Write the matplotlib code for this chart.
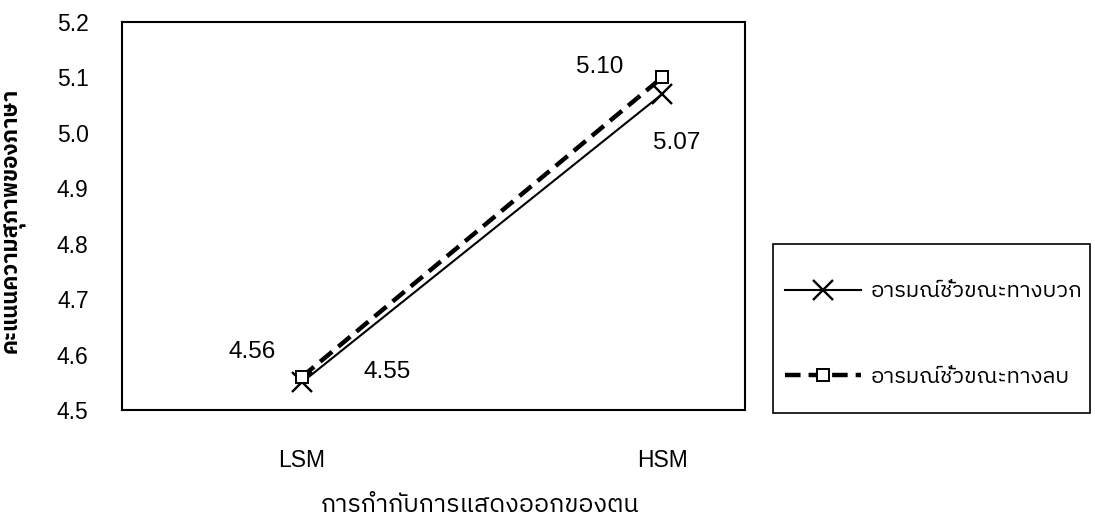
import matplotlib
matplotlib.use('Agg')
import matplotlib.pyplot as plt
from matplotlib import font_manager
from matplotlib.ft2font import FT2Font
from matplotlib.patches import Rectangle

# data
groups = ['LSM', 'HSM']
positive_mood = [4.55, 5.07]
negative_mood = [4.56, 5.10]
series_names = ['อารมณ์ชั่วขณะทางบวก', 'อารมณ์ชั่วขณะทางลบ']
y_ticks = [4.5, 4.6, 4.7, 4.8, 4.9, 5.0, 5.1, 5.2]
x_title = 'การกำกับการแสดงออกของตน'
y_title = 'คะแนนความสุภาพของภาษา'


def find_thai_font():
    # look for any installed font that has Thai glyphs
    found = []
    for f in font_manager.fontManager.ttflist:
        try:
            if 0x0E01 in FT2Font(f.fname).get_charmap():
                found.append(f.name)
        except Exception:
            pass
    for name in found:
        if 'Sans' in name:
            return name
    if found:
        return found[0]
    return 'DejaVu Sans'


thai_font = find_thai_font()
num_font = 'Liberation Sans'
W, H = 1095, 522

fig = plt.figure(figsize=(10.95, 5.22), dpi=100)
ax = fig.add_axes([122 / W, 1 - 410 / H, 623 / W, 388 / H])

x = list(range(len(groups)))
ax.plot(x, positive_mood, color='black', linewidth=1.5, marker='x',
        markersize=14, markeredgewidth=1.7, label=series_names[0])
ax.plot(x, negative_mood, color='black', linewidth=3.2, linestyle=(0, (3.5, 1.8)),
        marker='s', markersize=9, markerfacecolor='white', markeredgewidth=1.4,
        label=series_names[1])

ax.set_xlim(-0.5, 1.23)
ax.set_ylim(4.5, 5.2)
ax.set_yticks(y_ticks)
ax.set_yticklabels(['%.1f' % v for v in y_ticks], fontsize=16.5, family=num_font)
ax.set_xticks(x)
ax.set_xticklabels(groups, fontsize=16.5, family=num_font)
ax.tick_params(axis='both', length=0)
ax.tick_params(axis='x', pad=28)
ax.tick_params(axis='y', pad=24)
for s in ax.spines.values():
    s.set_linewidth(1.5)

# value labels
offsets_pos = [(85, 10), (15, -49)]
offsets_neg = [(-50, 25), (-62, 10)]
for i in x:
    ax.annotate('%.2f' % positive_mood[i], (x[i], positive_mood[i]),
                xytext=offsets_pos[i], textcoords='offset pixels',
                ha='center', va='center', fontsize=17.5, family=num_font)
    ax.annotate('%.2f' % negative_mood[i], (x[i], negative_mood[i]),
                xytext=offsets_neg[i], textcoords='offset pixels',
                ha='center', va='center', fontsize=17.5, family=num_font)

fig.text(480 / W, 1 - 505 / H, x_title, ha='center', va='center',
         fontsize=18, family=[thai_font, 'DejaVu Sans'])
fig.text(15 / W, 1 - 220 / H, y_title, ha='center', va='center',
         rotation=90, fontsize=16, fontweight='bold', family=[thai_font, 'DejaVu Sans'])

# legend box drawn separately so its size matches the reference
fig.patches.append(Rectangle((773 / W, 1 - 413 / H), 317 / W, 169 / H,
                             transform=fig.transFigure, fill=False,
                             edgecolor='black', linewidth=1.2))
fig.legend(loc='center left', bbox_to_anchor=(785 / W, 1 - 334 / H),
           frameon=False, handlelength=3.4, handletextpad=0.45,
           labelspacing=2.85, borderpad=0, borderaxespad=0,
           prop={'family': [thai_font, 'DejaVu Sans'], 'size': 16})

fig.savefig('out.png', dpi=100)
